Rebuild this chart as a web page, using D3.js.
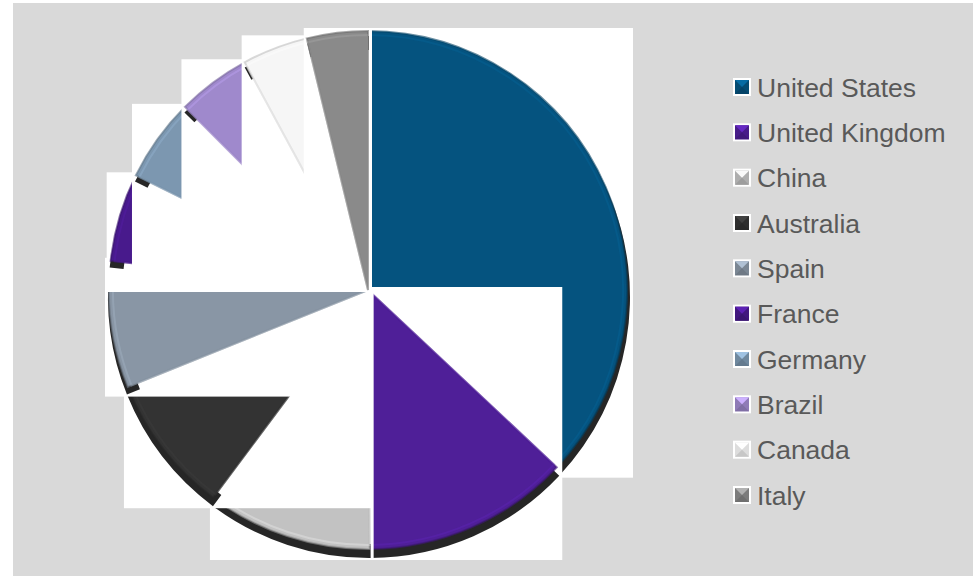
<!DOCTYPE html>
<html>
<head>
<meta charset="utf-8">
<script src="https://cdn.jsdelivr.net/npm/d3@7"></script>
<style>
  body { margin: 0; background: #fff; }
  svg { display: block; font-family: "Liberation Sans", Arial, sans-serif; }
</style>
</head>
<body>
<svg id="chart" width="973" height="576"></svg>
<script>
// data (share of the pie, %)
var countries = ["United States", "United Kingdom", "China", "Australia", "Spain",
                 "France", "Germany", "Brazil", "Canada", "Italy"];
var shares = [37.0, 12.9, 10.3, 8.7, 7.9, 5.5, 5.2, 4.6, 4.1, 3.8];
var colors = ["#05537f", "#4f1f98", "#c2c2c2", "#333333", "#8996a5",
              "#481a8c", "#7c97b0", "#9f89cc", "#f6f6f6", "#8a8a8a"];

var svg = d3.select("#chart");

// grey chart area
svg.append("rect")
  .attr("x", 13).attr("y", 3)
  .attr("width", 960).attr("height", 573)
  .attr("fill", "#d9d9d9");

var cx = 368, cy = 290, radius = 259;

var pie = d3.pie().sort(null).value(function(d) { return d; });
var arcs = pie(shares);
var arc = d3.arc().innerRadius(0).outerRadius(radius);
var shadowArc = d3.arc().innerRadius(radius - 12).outerRadius(radius + 2);

var chart = svg.append("g").attr("transform", "translate(" + cx + "," + cy + ")");

// each slice is painted on its own white tile, later tiles cover earlier slices
arcs.forEach(function(a, i) {
  var g = chart.append("g").attr("class", "slice");
  g.append("path")
    .attr("d", shadowArc(a))
    .attr("transform", "translate(1,7)")
    .attr("fill", "#000")
    .attr("fill-opacity", 0.85);
  g.append("path")
    .attr("d", arc(a))
    .attr("fill", colors[i]);
  // bevel-ish edges
  g.append("path")
    .attr("d", arc(a))
    .attr("fill", "none")
    .attr("stroke", d3.color(colors[i]).darker(0.7))
    .attr("stroke-width", 2)
    .attr("stroke-opacity", 0.6);
  g.append("path")
    .attr("d", d3.arc().innerRadius(0).outerRadius(radius - 4)(a))
    .attr("fill", "none")
    .attr("stroke", d3.color(colors[i]).brighter(0.6))
    .attr("stroke-width", 2)
    .attr("stroke-opacity", 0.35);

  var b = g.node().getBBox();
  g.insert("rect", ":first-child")
    .attr("x", b.x - 3).attr("y", b.y - 3)
    .attr("width", b.width + 6).attr("height", b.height + 5)
    .attr("fill", "#fff");
});

// legend
var y = d3.scalePoint().domain(countries).range([87, 495]);
var legend = svg.append("g");
var sw = 18;

countries.forEach(function(name, i) {
  var row = legend.append("g").attr("transform", "translate(733," + (y(name) - sw / 2) + ")");
  var c = d3.color(colors[i]);
  row.append("rect")
    .attr("width", sw).attr("height", sw)
    .attr("fill", "#fff");
  row.append("rect")
    .attr("x", 2).attr("y", 2)
    .attr("width", sw - 4).attr("height", sw - 4)
    .attr("fill", c.darker(0.3));
  row.append("polygon")
    .attr("points", [[2, 2], [sw - 2, 2], [sw / 2, sw / 2]].join(" "))
    .attr("fill", c.brighter(0.7));
  row.append("polygon")
    .attr("points", [[2, sw - 2], [sw - 2, sw - 2], [sw / 2, sw / 2]].join(" "))
    .attr("fill", c.darker(0.6));

  legend.append("text")
    .attr("x", 757)
    .attr("y", y(name))
    .attr("dy", "0.36em")
    .attr("font-size", 26.5)
    .attr("fill", "#595959")
    .text(name);
});
</script>
</body>
</html>
